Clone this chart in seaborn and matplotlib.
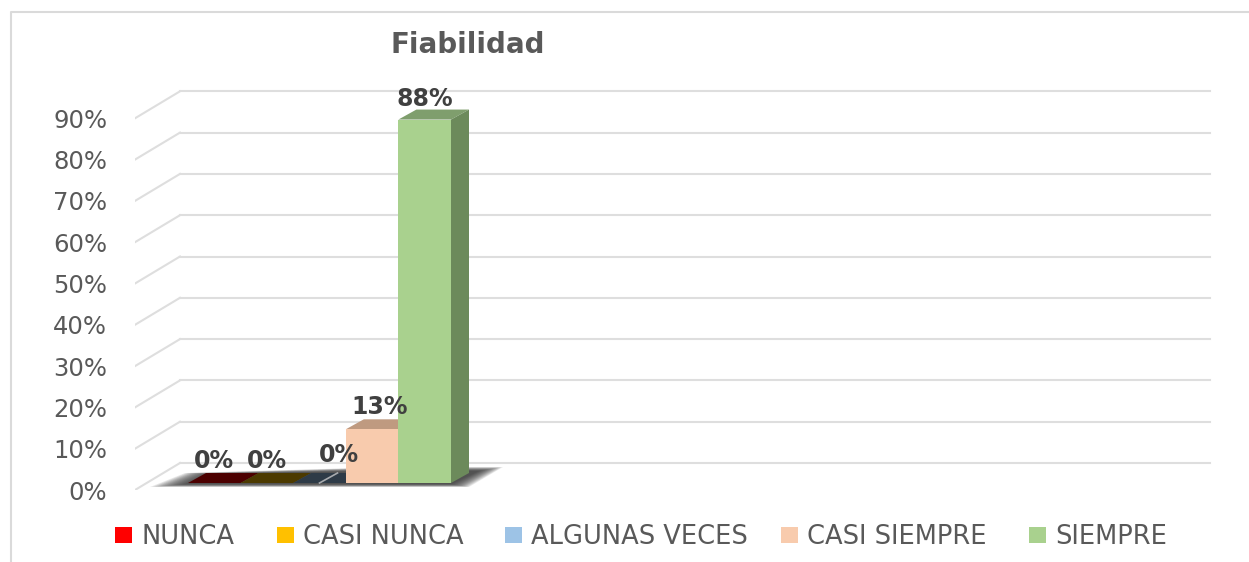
import pandas as pd
import numpy as np
import seaborn as sns
import matplotlib.pyplot as plt
from matplotlib.patches import Polygon
from matplotlib.lines import Line2D
from matplotlib.transforms import Affine2D

levels = ['NUNCA', 'CASI NUNCA', 'ALGUNAS VECES', 'CASI SIEMPRE', 'SIEMPRE']
values = [0.0, 0.0, 0.0, 0.13, 0.88]
value_labels = ['0%', '0%', '0%', '13%', '88%']
ticks = [0.0, 0.1, 0.2, 0.3, 0.4, 0.5, 0.6, 0.7, 0.8, 0.9]
tick_labels = ['0%', '10%', '20%', '30%', '40%', '50%', '60%', '70%', '80%', '90%']

front_cols = ['#FF0000', '#FFC000', '#9DC3E6', '#F8CBAD', '#A9D18E']
top_cols = ['#4C0000', '#4C3A00', '#2E3B47', '#BF9A80', '#7F9E6D']
side_cols = ['#4C0000', '#4C3A00', '#2E3B47', '#B89580', '#6C8A5B']

W, H = 1249, 562
GRID = '#DEDEDE'
TXT = '#595959'

# one unit on x = 329 px, one unit on y = 413 px
PX = 1 / 328.75
PY = 1 / 413.0

fig = plt.figure(figsize=(W / 100, H / 100), dpi=100)
# axes box: x 135..1215 px, y 490..60 px from the top
ax = fig.add_axes([135 / W, (H - 490) / H, 1080 / W, 430 / H])
ax.patch.set_alpha(0)

df = pd.DataFrame({'group': ['Fiabilidad'] * 5, 'level': levels, 'value': values})
sns.barplot(data=df, x='group', y='value', hue='level', hue_order=levels,
            palette=dict(zip(levels, front_cols)), width=0.8, gap=0, saturation=1,
            ax=ax, zorder=10)

handles, labels = ax.get_legend_handles_labels()
ax.get_legend().remove()

ax.set_xlim(-184.5 * PX, (1215 - 319.5) * PX)
ax.set_ylim(-7 * PY, 423 * PY)
ax.set_xlabel('')
ax.set_ylabel('')
ax.set_xticks([])
ax.set_yticks(ticks)
ax.set_yticklabels(tick_labels, fontsize=17.5, color=TXT)
ax.tick_params(axis='y', length=0, pad=20)
for lab in ax.get_yticklabels():
    lab.set_transform(lab.get_transform() + Affine2D().translate(0, -7))
for s in ax.spines.values():
    s.set_visible(False)

# back wall grid and the diagonals on the side wall
x_left = -184.5 * PX
for t in ticks:
    y_back = t + 20 * PY
    y_front = t - 7 * PY
    ax.plot([x_left + 45 * PX, (1210 - 319.5) * PX], [y_back, y_back], color=GRID, lw=1.5, zorder=1)
    ax.plot([x_left, x_left + 45 * PX], [y_front, y_back], color=GRID, lw=1.5, zorder=1)

bars = [c[0] for c in ax.containers]
x0 = bars[0].get_x()
x1 = bars[-1].get_x() + bars[-1].get_width()

# floor shadow, soft edge built from stacked polygons
n_shadow = 16
for k in range(n_shadow):
    g = (n_shadow - 1 - k) / (n_shadow - 1)
    ax.add_patch(Polygon([(x0 - 38 * g * PX, (-1 - 3 * g) * PY),
                          (x1 + 18 * g * PX, (-1 - 3 * g) * PY),
                          (x1 + (28 + 24 * g) * PX, (12 + 4 * g) * PY),
                          (x1 - 60 * PX, (12 + 4 * g) * PY),
                          (x0 + (22 - 25 * g) * PX, (9 + 1 * g) * PY)],
                         closed=True, fc='#303030', ec='none', alpha=0.10, zorder=2))

# depth faces of the bars
DX, DY = 18 * PX, 10 * PY
for i, b in enumerate(bars):
    x, w, h = b.get_x(), b.get_width(), b.get_height()
    z = 3 + i
    b.set_zorder(z + 0.5)
    ax.add_patch(Polygon([(x, h), (x + w, h), (x + w + DX, h + DY), (x + DX, h + DY)],
                         closed=True, fc=top_cols[i], ec='none', zorder=z))
    ax.add_patch(Polygon([(x + w, 0), (x + w + DX, DY), (x + w + DX, h + DY), (x + w, h)],
                         closed=True, fc=side_cols[i], ec='none', zorder=z))

# thin pale line left over on the blue bar
bx = bars[2].get_x() + bars[2].get_width() / 2
ax.plot([bx, bx + DX], [0, DY], color='#A8ABAE', lw=1.2, zorder=6)

# data labels, shifts in px from the bar top centre
label_dx = [0, 0, 19, 8, 0]
label_dy = [22, 22, 28, 22, 21]
for i, b in enumerate(bars):
    ax.annotate(value_labels[i], (b.get_x() + b.get_width() / 2, b.get_height()),
                xytext=(label_dx[i] * 0.72, label_dy[i] * 0.72), textcoords='offset points',
                ha='center', va='center', fontsize=17, fontweight='bold',
                color='#404040', zorder=20)

fig.text(468 / W, 1 - 45 / H, 'Fiabilidad', ha='center', va='center',
         fontsize=20, fontweight='bold', color=TXT)

# legend entries are spread by hand like in the original
legend_x = [115, 277, 505, 781, 1029]
for h, l, lx in zip(handles, labels, legend_x):
    fig.legend([h], [l], loc='center left', bbox_to_anchor=(lx / W, 1 - 537 / H),
               frameon=False, fontsize=18.5, labelcolor=TXT, borderpad=0, borderaxespad=0,
               handlelength=0.68, handleheight=0.55, handletextpad=0.35)

# chart frame, only left and top show in the crop
fig.add_artist(Line2D([11 / W, 11 / W, 1], [0, 1 - 12 / H, 1 - 12 / H],
                      color='#DADADA', lw=1.5))

fig.savefig('out.png', dpi=100)
